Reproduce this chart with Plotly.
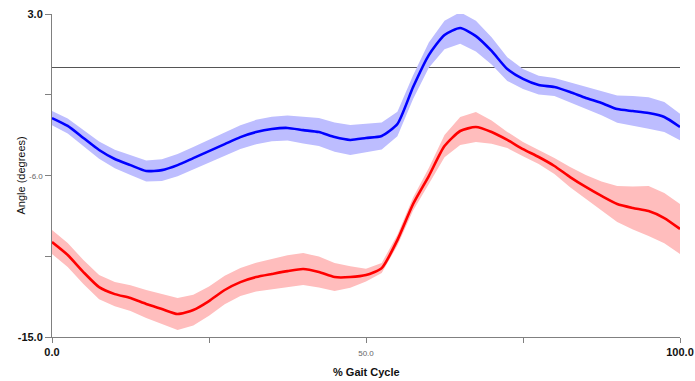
import plotly.graph_objects as go

gait_pct = [0, 2.5, 5, 7.5, 10, 12.5, 15, 17.5, 20, 22.5, 25, 27.5, 30, 32.5, 35, 37.5,
            40, 42.5, 45, 47.5, 50, 52.5, 55, 57.5, 60, 62.5, 65, 67.5, 70, 72.5, 75,
            77.5, 80, 82.5, 85, 87.5, 90, 92.5, 95, 97.5, 100]

blue_mean = [-2.80, -3.24, -3.91, -4.58, -5.08, -5.42, -5.75, -5.70, -5.42, -5.03, -4.64,
             -4.25, -3.86, -3.58, -3.41, -3.35, -3.47, -3.58, -3.86, -4.02, -3.91, -3.80,
             -3.13, -1.07, 0.71, 1.83, 2.22, 1.77, 0.94, -0.07, -0.62, -0.96, -1.07, -1.35,
             -1.68, -1.96, -2.30, -2.41, -2.52, -2.74, -3.30]
blue_sd = [0.40, 0.42, 0.45, 0.48, 0.52, 0.55, 0.58, 0.60, 0.62, 0.62, 0.62, 0.64, 0.66,
           0.68, 0.68, 0.70, 0.74, 0.78, 0.82, 0.84, 0.80, 0.75, 0.68, 0.66, 0.70, 0.80,
           0.88, 0.86, 0.76, 0.66, 0.56, 0.52, 0.50, 0.54, 0.60, 0.68, 0.76, 0.84, 0.88,
           0.84, 0.74]

red_mean = [-9.71, -10.43, -11.38, -12.22, -12.61, -12.83, -13.16, -13.44, -13.72, -13.50,
            -13.00, -12.38, -11.94, -11.66, -11.49, -11.33, -11.21, -11.38, -11.66, -11.66,
            -11.55, -11.16, -9.60, -7.59, -6.03, -4.36, -3.52, -3.30, -3.58, -4.02, -4.53,
            -4.97, -5.47, -6.09, -6.64, -7.14, -7.59, -7.81, -7.98, -8.37, -8.98]
red_sd = [0.67, 0.67, 0.67, 0.67, 0.67, 0.72, 0.78, 0.84, 0.89, 0.86, 0.82, 0.80, 0.78,
          0.80, 0.84, 0.88, 0.89, 0.86, 0.78, 0.60, 0.36, 0.28, 0.30, 0.36, 0.45, 0.62,
          0.78, 0.84, 0.65, 0.45, 0.40, 0.39, 0.45, 0.56, 0.67, 0.80, 1.00, 1.20, 1.39,
          1.40, 1.39]

y_tickvals = [3.0, -1.5, -6.0, -10.5, -15.0]
y_ticktext = ["<b>3.0</b>", "", "<span style='font-size:8px;color:#666'>-6.0</span>", "", "<b>-15.0</b>"]
x_tickvals = [0, 25, 50, 75, 100]
x_ticktext = ["<b>0.0</b>", "", "<span style='font-size:8px;color:#666'>50.0</span>", "", "<b>100.0</b>"]

x_title = "% Gait Cycle"
y_title = "Angle (degrees)"

FONT = "Liberation Sans, Arial, sans-serif"

fig = go.Figure()


def add_band(mean, sd, fillcolor):
    upper = [m + s for m, s in zip(mean, sd)]
    lower = [m - s for m, s in zip(mean, sd)]
    fig.add_trace(go.Scatter(x=gait_pct + gait_pct[::-1], y=upper + lower[::-1],
                             fill="toself", fillcolor=fillcolor, line=dict(width=0),
                             mode="lines", hoverinfo="skip", showlegend=False))


add_band(blue_mean, blue_sd, "#BDBDFF")
add_band(red_mean, red_sd, "#FFBDBD")

fig.add_trace(go.Scatter(x=gait_pct, y=blue_mean, mode="lines",
                         line=dict(color="#0000FF", width=2.6, shape="spline", smoothing=0.6),
                         showlegend=False))
fig.add_trace(go.Scatter(x=gait_pct, y=red_mean, mode="lines",
                         line=dict(color="#FF0000", width=2.6, shape="spline", smoothing=0.6),
                         showlegend=False))

fig.update_layout(
    width=695, height=381,
    margin=dict(l=52, r=15, t=14, b=44, autoexpand=False),
    paper_bgcolor="white", plot_bgcolor="white",
    font=dict(family=FONT, size=11, color="#111"),
    showlegend=False,
    xaxis=dict(range=[0, 100], tickvals=x_tickvals, ticktext=x_ticktext, automargin=False,
               ticklabeloverflow="allow",
               showgrid=False, zeroline=False, showline=True, linecolor="#808080",
               linewidth=1, ticks="outside", ticklen=5, tickcolor="#808080",
               tickfont=dict(size=11, color="#111")),
    yaxis=dict(range=[-15, 3], tickvals=y_tickvals, ticktext=y_ticktext, automargin=False,
               ticklabeloverflow="allow",
               showgrid=False, zeroline=True, zerolinecolor="#555555", zerolinewidth=1,
               showline=True, linecolor="#808080", linewidth=1,
               ticks="outside", ticklen=6, tickcolor="#808080",
               tickfont=dict(size=11, color="#111")),
    annotations=[
        dict(text="<b>" + x_title + "</b>", xref="paper", yref="paper", x=0.5, y=0,
             xanchor="center", yanchor="middle", yshift=-35, showarrow=False,
             font=dict(size=11, color="#111")),
        dict(text=y_title, xref="paper", yref="paper", x=0, y=0.5, textangle=-90,
             xanchor="center", yanchor="middle", xshift=-32, showarrow=False,
             font=dict(size=11, color="#111")),
    ],
)

fig.write_html("out.html", config={"displayModeBar": False},
               post_script="document.body.style.margin='0';document.body.style.overflow='hidden';")
